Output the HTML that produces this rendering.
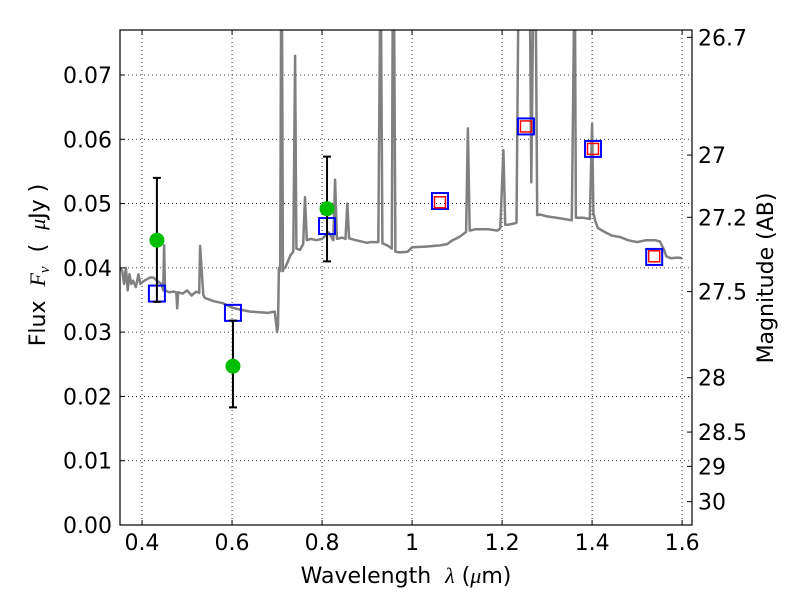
<!DOCTYPE html>
<html><head><meta charset="utf-8"><style>
body{margin:0;background:#fff;}
svg{font-family:"DejaVu Sans","Liberation Sans",sans-serif;}
</style></head><body>
<svg id="chart" width="800" height="600" viewBox="0 0 800 600">
<g id="grid"></g>
<g id="plot"></g>
<g id="axes"></g>
<text x="406" y="583" font-size="22" text-anchor="middle" xml:space="preserve">Wavelength  <tspan font-style="italic" font-family="Liberation Serif, serif">λ</tspan> (<tspan font-style="italic" font-family="Liberation Serif, serif">μ</tspan>m)</text>
<text transform="translate(45,265) rotate(-90)" font-size="22" text-anchor="middle" xml:space="preserve">Flux  <tspan font-style="italic" font-family="Liberation Serif, serif">F<tspan font-size="15" dy="4">ν</tspan></tspan><tspan dy="-4">  (  </tspan><tspan font-style="italic" font-family="Liberation Serif, serif">μ</tspan>Jy )</text>
<text transform="translate(773,278) rotate(-90)" font-size="22" text-anchor="middle">Magnitude (AB)</text>
</svg>
<script>
const xTicks=[0.4,0.6,0.8,1.0,1.2,1.4,1.6];
const xTickLabels=["0.4","0.6","0.8","1","1.2","1.4","1.6"];
const yTicks=[0,0.01,0.02,0.03,0.04,0.05,0.06,0.07];
const yTickLabels=["0.00","0.01","0.02","0.03","0.04","0.05","0.06","0.07"];
const magTicks=[26.7,27,27.2,27.5,28,28.5,29,30];
const magTickLabels=["26.7","27","27.2","27.5","28","28.5","29","30"];
const specWave=[0.351,0.356,0.36,0.364,0.368,0.372,0.376,0.38,0.386,0.392,0.396,0.405,0.418,0.425,0.433,0.443,0.447,0.449,0.451,0.46,0.47,0.476,0.478,0.48,0.49,0.5,0.51,0.52,0.527,0.529,0.536,0.538,0.54,0.56,0.58,0.6,0.618,0.64,0.662,0.68,0.695,0.7,0.702,0.704,0.707,0.709,0.711,0.713,0.715,0.718,0.724,0.73,0.736,0.74,0.743,0.751,0.758,0.762,0.766,0.775,0.787,0.8,0.815,0.825,0.829,0.833,0.845,0.852,0.856,0.86,0.875,0.9,0.907,0.925,0.929,0.931,0.934,0.945,0.955,0.957,0.96,0.963,0.973,0.99,1.0,1.03,1.062,1.078,1.09,1.105,1.12,1.124,1.128,1.14,1.17,1.19,1.196,1.203,1.207,1.213,1.22,1.232,1.236,1.24,1.252,1.262,1.265,1.269,1.272,1.275,1.278,1.284,1.3,1.33,1.355,1.36,1.362,1.364,1.368,1.38,1.395,1.4,1.403,1.407,1.413,1.43,1.445,1.462,1.48,1.5,1.52,1.54,1.551,1.56,1.565,1.575,1.59,1.6,1.622];
const specFlux=[0.040,0.0395,0.0375,0.040,0.0365,0.039,0.0375,0.038,0.037,0.039,0.0375,0.038,0.0385,0.0385,0.0380,0.0375,0.0365,0.0435,0.0365,0.0362,0.0363,0.0362,0.0337,0.0362,0.036,0.0365,0.0357,0.0363,0.0361,0.0434,0.0358,0.0355,0.0353,0.0348,0.0345,0.0338,0.0335,0.0332,0.0331,0.0330,0.0332,0.0300,0.0310,0.0400,0.0395,0.080,0.080,0.0395,0.0400,0.0400,0.0410,0.0420,0.0425,0.0730,0.0430,0.0428,0.0437,0.051,0.0443,0.0445,0.0443,0.0445,0.0455,0.0443,0.0537,0.0445,0.0447,0.0445,0.0500,0.0446,0.0443,0.0439,0.0440,0.0440,0.080,0.080,0.0438,0.0435,0.0430,0.080,0.080,0.0425,0.0424,0.0425,0.0432,0.0433,0.0435,0.0437,0.0443,0.0448,0.0456,0.0617,0.0458,0.0460,0.0460,0.0458,0.0462,0.0583,0.0467,0.0467,0.0468,0.0470,0.080,0.080,0.080,0.080,0.0533,0.080,0.080,0.080,0.0482,0.0483,0.0480,0.0477,0.0474,0.080,0.080,0.0478,0.0478,0.0478,0.0476,0.0624,0.0485,0.0473,0.0462,0.0455,0.0450,0.0448,0.0443,0.0440,0.0443,0.0443,0.0441,0.0428,0.0418,0.0415,0.0416,0.0415];
const photWave=[0.433,0.602,0.811];
const photFlux=[0.0443,0.0247,0.0492];
const photErrLo=[0.0347,0.0183,0.0410];
const photErrHi=[0.0540,0.0318,0.0573];
const modelWave=[0.433,0.602,0.811,1.062,1.253,1.402,1.538];
const modelFlux=[0.0360,0.0330,0.0465,0.0504,0.0620,0.0585,0.0417];
const synthWave=[1.062,1.253,1.402,1.538];
const synthFlux=[0.0502,0.0620,0.0585,0.0418];

const X0=120,X1=692,Y0=525,Y1=30;
const xmin=0.351,xmax=1.622,ymin=0,ymax=0.077;
const sx=v=>X0+(v-xmin)/(xmax-xmin)*(X1-X0);
const sy=v=>Y0-(v-ymin)/(ymax-ymin)*(Y0-Y1);
const magToFlux=m=>Math.pow(10,(23.9-m)/2.5);
const NS="http://www.w3.org/2000/svg";
function mk(tag,attrs,parent){const e=document.createElementNS(NS,tag);for(const k in attrs)e.setAttribute(k,attrs[k]);parent.appendChild(e);return e;}
const grid=document.getElementById('grid'),plot=document.getElementById('plot'),axes=document.getElementById('axes');

const defs=mk('defs',{},document.getElementById('chart'));
const cp=mk('clipPath',{id:'clip'},defs);
mk('rect',{x:X0,y:Y1,width:X1-X0,height:Y0-Y1},cp);
plot.setAttribute('clip-path','url(#clip)');

xTicks.forEach((t,i)=>{
  const x=sx(t);
  const g=mk('line',{x1:x,x2:x,y1:Y1,y2:Y0,stroke:'#000','stroke-width':0.8,'stroke-dasharray':'1,3'},grid);
  
  
  mk('line',{x1:x,x2:x,y1:Y0,y2:Y0-5,stroke:'#000','stroke-width':1},axes);
  mk('line',{x1:x,x2:x,y1:Y1,y2:Y1+5,stroke:'#000','stroke-width':1},axes);
  const tx=mk('text',{x:x,y:Y0+25,'font-size':22,'text-anchor':'middle'},axes);
  tx.textContent=xTickLabels[i];
  
  
});
yTicks.forEach((t,i)=>{
  const y=sy(t);
  const g=mk('line',{x1:X0,x2:X1,y1:y,y2:y,stroke:'#000','stroke-width':0.8,'stroke-dasharray':'1,3'},grid);
  
  
  mk('line',{x1:X0,x2:X0+5,y1:y,y2:y,stroke:'#000','stroke-width':1},axes);
  const tx=mk('text',{x:X0-8,y:y+8,'font-size':22,'text-anchor':'end'},axes);
  tx.textContent=yTickLabels[i];
  
  
});
magTicks.forEach((m,i)=>{
  const y=sy(magToFlux(m));
  mk('line',{x1:X1,x2:X1-5,y1:y,y2:y,stroke:'#000','stroke-width':1},axes);
  const tx=mk('text',{x:X1+6,y:y+8,'font-size':22},axes);
  tx.textContent=magTickLabels[i];
  
  
});

let d='';
specWave.forEach((w,i)=>{d+=(i?'L':'M')+sx(w).toFixed(1)+','+sy(specFlux[i]).toFixed(1);});
const sp=mk('path',{d:d,fill:'none',stroke:'#808080','stroke-width':2.5,'stroke-linejoin':'round'},plot);



modelWave.forEach((w,i)=>{
  const r=mk('rect',{x:sx(w)-8,y:sy(modelFlux[i])-8,width:16,height:16,fill:'none',stroke:'#0000ff','stroke-width':2},plot);
  
  
});
synthWave.forEach((w,i)=>{
  const r=mk('rect',{x:sx(w)-5.5,y:sy(synthFlux[i])-5.5,width:11,height:11,fill:'none',stroke:'#ff0000','stroke-width':1.5},plot);
  
  
});
photWave.forEach((w,i)=>{
  const x=sx(w);
  const e=mk('path',{d:`M${x},${sy(photErrLo[i])}L${x},${sy(photErrHi[i])}M${x-4},${sy(photErrLo[i])}L${x+4},${sy(photErrLo[i])}M${x-4},${sy(photErrHi[i])}L${x+4},${sy(photErrHi[i])}`,stroke:'#000','stroke-width':2,fill:'none'},plot);
  
  
  const c=mk('circle',{cx:x,cy:sy(photFlux[i]),r:7.5,fill:'#00bf00'},plot);
  
  
});
const fr=mk('rect',{x:X0,y:Y1,width:X1-X0,height:Y0-Y1,fill:'none',stroke:'#000','stroke-width':1.2},axes);


</script>
</body></html>
